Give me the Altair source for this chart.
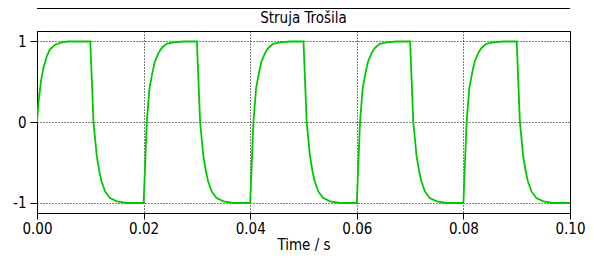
import altair as alt
import pandas as pd

# Time samples (s)
time_s = [
    0.0, 0.0003, 0.00075, 0.0012, 0.0018, 0.0024, 0.0034, 0.0046, 0.0058, 0.0100,
    0.0106, 0.0112, 0.0117, 0.0121, 0.0128, 0.0137, 0.0150, 0.0168, 0.0200,
    0.0206, 0.0211, 0.0217, 0.0221, 0.0228, 0.0234, 0.0243, 0.0256, 0.0275, 0.0300,
    0.0306, 0.0312, 0.0317, 0.0321, 0.0328, 0.0337, 0.0350, 0.0368, 0.0400,
    0.0406, 0.0411, 0.0417, 0.0421, 0.0428, 0.0434, 0.0443, 0.0456, 0.0475, 0.0500,
    0.0506, 0.0512, 0.0517, 0.0521, 0.0528, 0.0537, 0.0550, 0.0568, 0.0600,
    0.0606, 0.0611, 0.0617, 0.0621, 0.0628, 0.0634, 0.0643, 0.0656, 0.0675, 0.0700,
    0.0706, 0.0712, 0.0717, 0.0721, 0.0728, 0.0737, 0.0750, 0.0768, 0.0800,
    0.0806, 0.0811, 0.0817, 0.0821, 0.0828, 0.0834, 0.0843, 0.0856, 0.0875, 0.0900,
    0.0906, 0.0912, 0.0917, 0.0921, 0.0928, 0.0937, 0.0950, 0.0968, 0.1000,
]

# Load current values
current = [
    0.0, 0.26, 0.51, 0.67, 0.81, 0.90, 0.96, 0.99, 1.0, 1.0,
    0.0, -0.41, -0.61, -0.73, -0.86, -0.94, -0.98, -1.0, -1.0,
    0.0, 0.42, 0.63, 0.75, 0.86, 0.92, 0.97, 0.99, 1.0, 1.0,
    0.0, -0.41, -0.61, -0.73, -0.86, -0.94, -0.98, -1.0, -1.0,
    0.0, 0.42, 0.63, 0.75, 0.86, 0.92, 0.97, 0.99, 1.0, 1.0,
    0.0, -0.41, -0.61, -0.73, -0.86, -0.94, -0.98, -1.0, -1.0,
    0.0, 0.42, 0.63, 0.75, 0.86, 0.92, 0.97, 0.99, 1.0, 1.0,
    0.0, -0.41, -0.61, -0.73, -0.86, -0.94, -0.98, -1.0, -1.0,
    0.0, 0.42, 0.63, 0.75, 0.86, 0.92, 0.97, 0.99, 1.0, 1.0,
    0.0, -0.41, -0.61, -0.73, -0.86, -0.94, -0.98, -1.0, -1.0,
]

x_ticks = [0.0, 0.02, 0.04, 0.06, 0.08, 0.10]
y_ticks = [-1, 0, 1]
title_text = ["Struja Trošila"]

df = pd.DataFrame({"t": time_s, "i": current})

FONT = "DejaVu Sans Condensed, DejaVu Sans"

x_enc = alt.X(
    "t:Q",
    scale=alt.Scale(domain=[0, 0.1], nice=False, zero=False),
    axis=alt.Axis(
        title="Time / s",
        values=x_ticks,
        format=".2f",
        grid=True,
        gridDash=[1, 2],
        gridColor="#000000",
        gridOpacity=1,
        tickSize=6,
        tickColor="#000000",
        domainColor="#000000",
        labelPadding=2,
        titlePadding=1,
        labelFontSize=15,
        titleFontSize=15,
        labelFont=FONT,
        titleFont=FONT,
        labelColor="#000000",
        titleColor="#000000",
        titleFontWeight="normal",
        labelFlush=False,
    ),
)
y_enc = alt.Y(
    "i:Q",
    scale=alt.Scale(domain=[-1.124, 1.13], nice=False, zero=False),
    axis=alt.Axis(
        title=None,
        values=y_ticks,
        labelExpr="toString(datum.value)",
        grid=True,
        gridDash=[1, 2],
        gridColor="#000000",
        gridOpacity=1,
        tickSize=7,
        tickColor="#000000",
        domainColor="#000000",
        labelPadding=4,
        labelFontSize=15,
        labelFont=FONT,
        labelColor="#000000",
    ),
)

line = alt.Chart(df).mark_line(color="#00c800", strokeWidth=1.8, clip=True).encode(
    x=x_enc, y=y_enc
)

# bottom edge of the panel above (partially visible)
top_edge = alt.Chart(pd.DataFrame({"a": [0]})).mark_rule(
    color="#000000", strokeWidth=1, clip=False
).encode(x=alt.value(0), x2=alt.value(533), y=alt.value(-22.5))

title = alt.Chart(pd.DataFrame({"label": title_text})).mark_text(
    font=FONT, fontSize=15, color="#000000", align="center", baseline="middle", clip=False
).encode(x=alt.value(266.5), y=alt.value(-13), text="label:N")

chart = (
    alt.layer(line, top_edge, title)
    .properties(
        width=533,
        height=182,
        autosize=alt.AutoSizeParams(type="none"),
        padding={"left": 29, "top": 23, "right": 16, "bottom": 42},
    )
    .configure_view(stroke="#000000", strokeWidth=1)
)

chart.save("out.html", embed_options={"renderer": "svg", "actions": False})
